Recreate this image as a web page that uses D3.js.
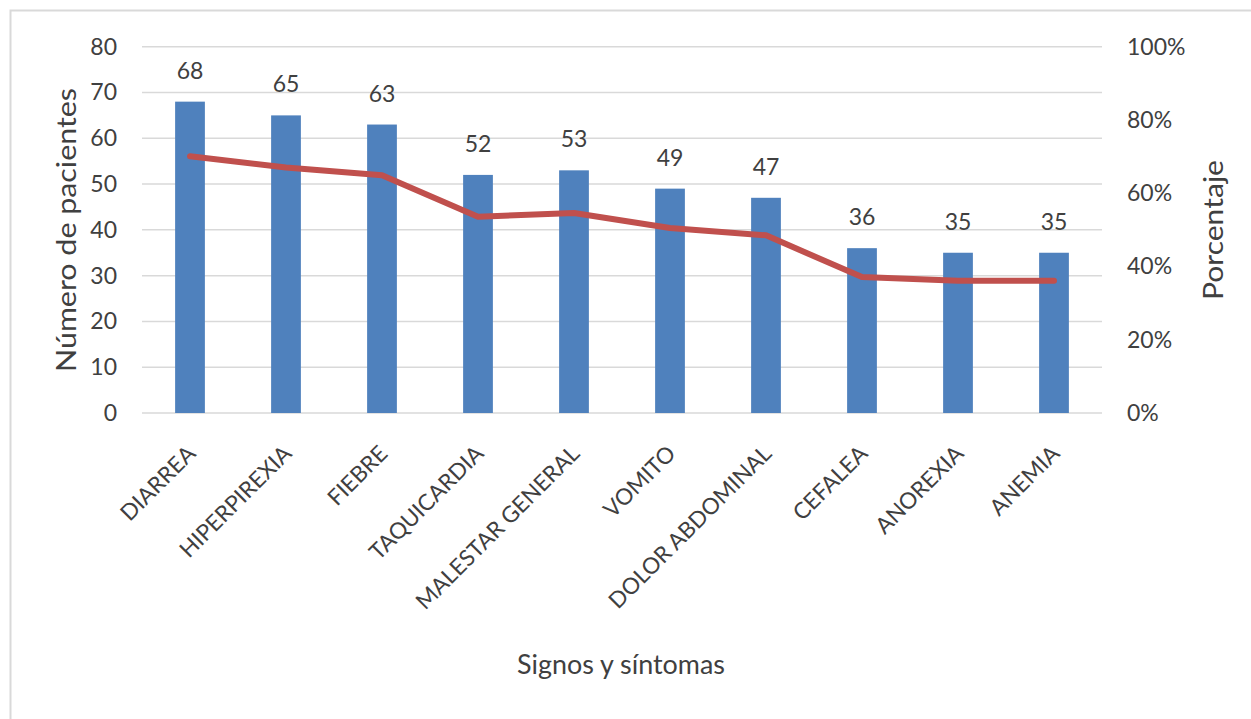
<!DOCTYPE html>
<html><head><meta charset="utf-8">
<script src="https://cdn.jsdelivr.net/npm/d3@7"></script>
<style>body{margin:0;background:#fff}svg{display:block}</style>
</head><body>
<svg id="c" width="1251" height="719"></svg>
<script>
const categories = ["DIARREA","HIPERPIREXIA","FIEBRE","TAQUICARDIA","MALESTAR GENERAL","VOMITO","DOLOR ABDOMINAL","CEFALEA","ANOREXIA","ANEMIA"];
const patients = [68,65,63,52,53,49,47,36,35,35];
const percentages = [70.1,67.0,64.9,53.6,54.6,50.5,48.5,37.1,36.1,36.1];
const leftTicks = [0,10,20,30,40,50,60,70,80];
const rightTicks = [0,20,40,60,80,100];

const svg = d3.select("#c");
const FONT = "Lato, 'Open Sans', sans-serif";
const TXT = "#404040";
const L = 142, R = 1102, T = 46.7, B = 413;

svg.append("rect").attr("x",10.5).attr("y",10.5).attr("width",1300).attr("height",800)
  .attr("fill","none").attr("stroke","#d9d9d9").attr("stroke-width",2);

const x = d3.scaleBand().domain(categories).range([L,R]).paddingInner(0.69).paddingOuter(0.345);
const y = d3.scaleLinear().domain([0,80]).range([B,T]);
const y2 = d3.scaleLinear().domain([0,100]).range([B,T]);

// gridlines
svg.append("g").selectAll("line").data(leftTicks).join("line")
  .attr("x1",L).attr("x2",R).attr("y1",d=>y(d)).attr("y2",d=>y(d))
  .attr("stroke","#d9d9d9").attr("stroke-width",1.5);

// left axis
const gl = svg.append("g").attr("transform",`translate(${L},0)`)
  .call(d3.axisLeft(y).tickValues(leftTicks).tickSize(0).tickPadding(25));
gl.select(".domain").remove();
gl.selectAll("text").attr("font-family",FONT).attr("font-size",23).attr("fill",TXT);

// right axis
const gr = svg.append("g").attr("transform",`translate(${R},0)`)
  .call(d3.axisRight(y2).tickValues(rightTicks).tickSize(0).tickPadding(25).tickFormat(d=>d+"%"));
gr.select(".domain").remove();
gr.selectAll("text").attr("font-family",FONT).attr("font-size",23).attr("fill",TXT);

// bars
svg.append("g").selectAll("rect").data(categories).join("rect")
  .attr("x",d=>x(d)).attr("width",x.bandwidth())
  .attr("y",(d,i)=>y(patients[i])).attr("height",(d,i)=>B-y(patients[i]))
  .attr("fill","#4f81bd");

// data labels
svg.append("g").selectAll("text").data(categories).join("text")
  .attr("x",d=>x(d)+x.bandwidth()/2).attr("y",(d,i)=>y(patients[i])-23)
  .attr("text-anchor","middle").attr("font-family",FONT).attr("font-size",23).attr("fill",TXT)
  .text((d,i)=>patients[i]);

// line
const line = d3.line().x((d,i)=>x(categories[i])+x.bandwidth()/2).y(d=>y2(d));
svg.append("path").datum(percentages).attr("d",line)
  .attr("fill","none").attr("stroke","#c0504d").attr("stroke-width",6)
  .attr("stroke-linejoin","round").attr("stroke-linecap","round");

// x labels
svg.append("g").selectAll("text").data(categories).join("text")
  .attr("transform",d=>`translate(${x(d)+x.bandwidth()/2+7},${B+42}) rotate(-45)`)
  .attr("text-anchor","end").attr("font-family",FONT).attr("font-size",22.5).attr("fill",TXT)
  .text(d=>d);

// titles
svg.append("text").attr("x",621).attr("y",674).attr("text-anchor","middle")
  .attr("font-family",FONT).attr("font-size",26).attr("fill",TXT)
  .attr("textLength",208).attr("lengthAdjust","spacingAndGlyphs").text("Signos y síntomas");
svg.append("text").attr("transform","translate(65,230) rotate(-90)").attr("text-anchor","middle")
  .attr("dominant-baseline","central").attr("font-family",FONT).attr("font-size",27).attr("fill",TXT)
  .attr("textLength",284).attr("lengthAdjust","spacingAndGlyphs").text("Número de pacientes");
svg.append("text").attr("transform","translate(1212,230) rotate(-90)").attr("text-anchor","middle")
  .attr("dominant-baseline","central").attr("font-family",FONT).attr("font-size",27).attr("fill",TXT)
  .attr("textLength",140).attr("lengthAdjust","spacingAndGlyphs").text("Porcentaje");
</script>
</body></html>
